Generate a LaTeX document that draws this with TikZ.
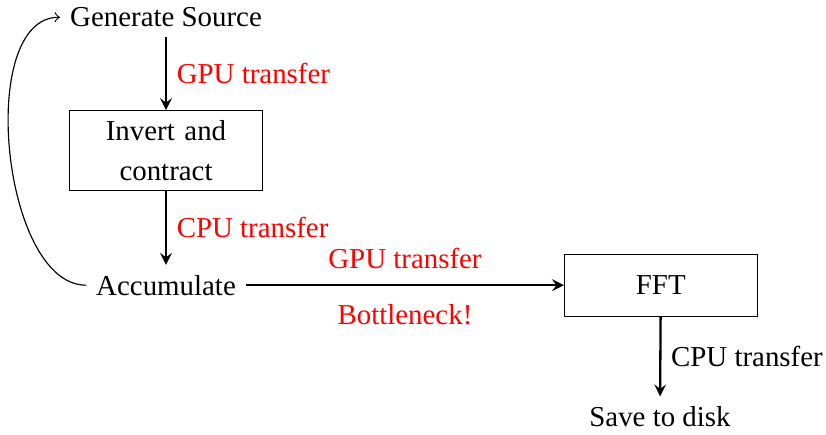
\documentclass[tikz,border=0pt]{standalone}
\usepackage{fontspec}
\setmainfont{Liberation Serif}
\usetikzlibrary{arrows.meta}

\begin{document}
\begin{tikzpicture}[>=stealth,
    blk/.style={draw, rectangle, text width=6em, align=center,
      minimum height=2.15em, font=\fontsize{10}{13.8}\selectfont},
    lnk/.style={->, thick}]

    \useasboundingbox (0,0) rectangle (10.05,5.29);

    \coordinate (p1) at (2.02,5.08);
    \coordinate (p2) at (2.02,3.46);
    \coordinate (p3) at (2.02,1.82);
    \coordinate (p4) at (8.04,1.82);
    \coordinate (p5) at (8.03,0.22);

    \node (gen) at (p1) {Generate Source};
    \node[blk] (inv) at (p2) {Invert and contract};
    \node (acc) at (p3) {Accumulate};
    \node[blk] (fft) at (p4) {FFT};
    \node (save) at (p5) {Save to disk};

    \draw[lnk] (gen) -- node[right,red]{GPU transfer} (inv);
    \draw[lnk] (inv) -- node[right,red]{CPU transfer} (acc);
    \draw[lnk] (acc) -- node[above=2pt,red]{GPU transfer}
      node[below=3pt,red]{Bottleneck!} (fft);
    \draw[lnk] (fft) -- node[right]{CPU transfer} (save);

    % loop back
    \draw[-to] (acc.west) to[out=180,in=180,looseness=0.8] (gen.west);

  \end{tikzpicture}
\end{document}
